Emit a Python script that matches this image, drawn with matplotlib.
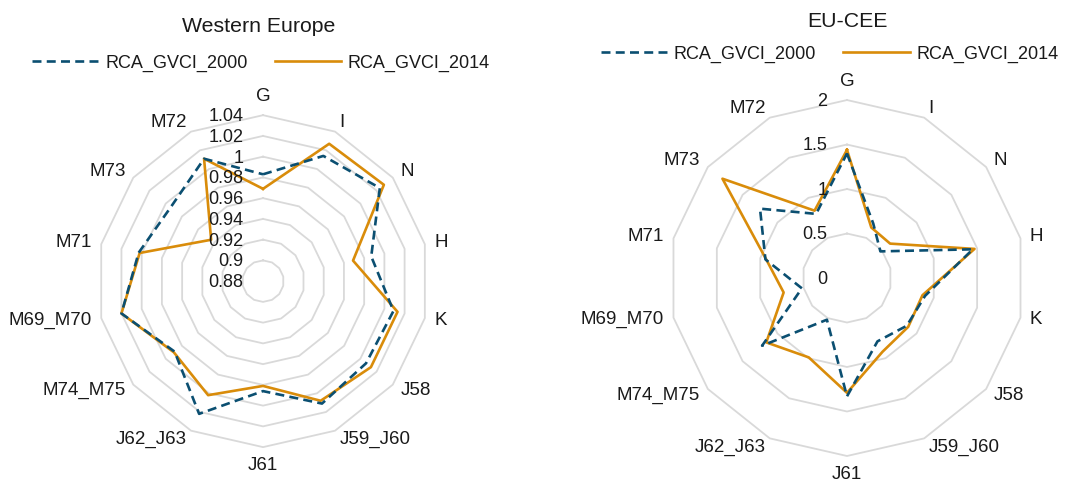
import numpy as np
import matplotlib
matplotlib.use("Agg")
import matplotlib.pyplot as plt
from matplotlib.lines import Line2D

plt.rcParams['font.family'] = ['Liberation Sans', 'DejaVu Sans']

categories = ['G', 'I', 'N', 'H', 'K', 'J58', 'J59_J60', 'J61', 'J62_J63',
              'M74_M75', 'M69_M70', 'M71', 'M73', 'M72']

# Western Europe
we_2000 = [0.983, 1.014, 1.024, 0.987, 1.009, 1.007, 1.011, 0.986, 1.022,
           0.989, 1.020, 1.003, 0.994, 1.011]
we_2014 = [0.969, 1.027, 1.029, 0.969, 1.013, 1.013, 1.008, 0.981, 1.002,
           0.990, 1.020, 1.002, 0.944, 1.011]
we_ticks = [0.88, 0.90, 0.92, 0.94, 0.96, 0.98, 1.00, 1.02, 1.04]
we_tick_labels = ['0.88', '0.9', '0.92', '0.94', '0.96', '0.98', '1', '1.02', '1.04']

# EU-CEE
cee_2000 = [1.40, 0.68, 0.48, 1.45, 0.90, 0.86, 0.79, 1.33, 0.52,
            1.22, 0.52, 0.94, 1.25, 0.80]
cee_2014 = [1.44, 0.63, 0.62, 1.47, 0.87, 0.88, 0.92, 1.29, 0.99,
            1.16, 0.73, 0.93, 1.79, 0.84]
cee_ticks = [0, 0.5, 1, 1.5, 2]
cee_tick_labels = ['0', '0.5', '1', '1.5', '2']

C2000 = '#0B4F71'
C2014 = '#D98C0A'
GRID = '#D9D9D9'
TXT = '#1a1a1a'


def radar(ax, v2000, v2014, ticks, tick_labels):
    n = len(categories)
    theta = np.arange(n) * 2 * np.pi / n
    th = np.append(theta, theta[0])

    ax.set_theta_offset(np.pi / 2)
    ax.set_theta_direction(-1)
    ax.set_ylim(ticks[0], ticks[-1])
    ax.grid(False)
    ax.set_xticks([])
    ax.set_yticks([])
    ax.spines['polar'].set_visible(False)
    ax.patch.set_alpha(0)

    # polygon rings
    for r in ticks[1:]:
        ax.plot(th, [r] * len(th), color=GRID, lw=1.3, zorder=1, clip_on=False)

    ax.plot(th, list(v2000) + [v2000[0]], color=C2000, lw=1.9,
            ls=(0, (3.4, 2.0)), zorder=3, clip_on=False)
    ax.plot(th, list(v2014) + [v2014[0]], color=C2014, lw=1.9,
            zorder=2, clip_on=False)

    # radial tick labels
    for r, lab in zip(ticks, tick_labels):
        ax.annotate(lab, xy=(0, r), xytext=(-14, -1), textcoords='offset points',
                    ha='right', va='center', fontsize=13, color=TXT, zorder=5)

    # category labels
    rmax = ticks[-1]
    for t, lab in zip(theta, categories):
        s, c = np.sin(t), np.cos(t)
        ha = 'left' if s > 0.2 else ('right' if s < -0.2 else 'center')
        va = 'bottom' if c > 0.95 else ('top' if c < -0.95 else 'center')
        ax.annotate(lab, xy=(t, rmax), xytext=(s * 7, c * 7),
                    textcoords='offset points', ha=ha, va=va,
                    fontsize=13.5, color=TXT, annotation_clip=False)


fig = plt.figure(figsize=(10.78, 4.86), dpi=100)

ax1 = fig.add_axes([0.090, 0.080, 0.308, 0.683], projection='polar')
radar(ax1, we_2000, we_2014, we_ticks, we_tick_labels)

ax2 = fig.add_axes([0.6206, 0.0617, 0.3302, 0.7325], projection='polar')
radar(ax2, cee_2000, cee_2014, cee_ticks, cee_tick_labels)

handles = [Line2D([], [], color=C2000, lw=1.9, ls=(0, (3.4, 2.0))),
           Line2D([], [], color=C2014, lw=1.9)]
names = ['RCA_GVCI_2000', 'RCA_GVCI_2014']

fig.text(0.240, 0.945, 'Western Europe', ha='center', va='center', fontsize=15.3, color=TXT)
fig.text(0.786, 0.955, 'EU-CEE', ha='center', va='center', fontsize=15.3, color=TXT)

for xc, yc in [(0.242, 0.870), (0.7695, 0.889)]:
    fig.legend(handles, names, loc='center', bbox_to_anchor=(xc, yc), ncol=2,
               frameon=False, fontsize=13, handlelength=3.7, handletextpad=0.35,
               columnspacing=1.5, borderpad=0, labelcolor=TXT)

fig.savefig('out.png', dpi=100)
